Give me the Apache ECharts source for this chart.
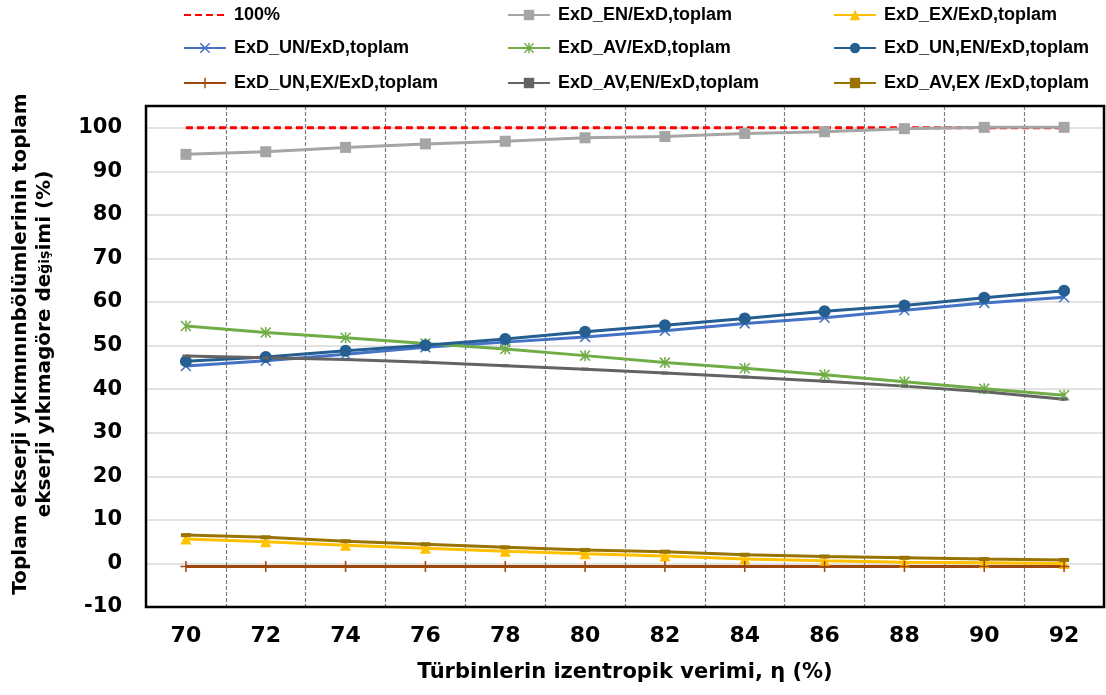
<!DOCTYPE html>
<html>
<head>
<meta charset="utf-8">
<script src="https://cdn.jsdelivr.net/npm/echarts@6/dist/echarts.min.js"></script>
<style>
  html, body { margin: 0; padding: 0; background: #ffffff; }
  #chart { width: 1106px; height: 695px; }
</style>
</head>
<body>
<div id="chart"></div>
<script>
// Turbine isentropic efficiency (%) on the category axis
const efficiency = ['70', '72', '74', '76', '78', '80', '82', '84', '86', '88', '90', '92'];

// Value axis range
const yMin = -10;
const yMax = 105;
const yStep = 10;

// Share of each exergy destruction component in the total (%)
const ref100    = [100, 100, 100, 100, 100, 100, 100, 100, 100, 100, 100, 100];
const enRatio   = [93.9, 94.5, 95.5, 96.3, 96.9, 97.7, 98.0, 98.7, 99.1, 99.8, 100.1, 100.1];
const exRatio   = [5.6, 5.0, 4.2, 3.5, 2.8, 2.2, 1.7, 1.0, 0.6, 0.3, 0.15, 0.0];
const unRatio   = [45.3, 46.5, 48.0, 49.6, 50.8, 52.0, 53.4, 55.1, 56.4, 58.1, 59.8, 61.1];
const avRatio   = [54.5, 53.0, 51.8, 50.5, 49.2, 47.7, 46.1, 44.8, 43.3, 41.7, 40.1, 38.6];
const unEnRatio = [46.4, 47.4, 48.8, 50.1, 51.5, 53.2, 54.7, 56.2, 57.9, 59.2, 61.0, 62.6];
const unExRatio = [-0.7, -0.7, -0.7, -0.7, -0.7, -0.7, -0.7, -0.7, -0.7, -0.7, -0.7, -0.7];
const avEnRatio = [47.6, 47.2, 46.8, 46.2, 45.4, 44.6, 43.7, 42.8, 41.8, 40.7, 39.4, 37.7];
const avExRatio = [6.5, 6.0, 5.1, 4.4, 3.7, 3.1, 2.7, 2.0, 1.6, 1.3, 1.0, 0.8];

const seriesNames = [
  '100%', 'ExD_EN/ExD,toplam', 'ExD_EX/ExD,toplam',
  'ExD_UN/ExD,toplam', 'ExD_AV/ExD,toplam', 'ExD_UN,EN/ExD,toplam',
  'ExD_UN,EX/ExD,toplam', 'ExD_AV,EN/ExD,toplam', 'ExD_AV,EX /ExD,toplam'
];

const FONT = '"Liberation Sans", Arial, sans-serif';
const FONT_WIDE = '"DejaVu Sans", Verdana, sans-serif';

// Marker shapes
const SYM_X = 'path://M0,1L1,0L10,9L9,10Z M9,0L10,1L1,10L0,9Z';
const SYM_STAR = 'path://M4.3,0H5.7V10H4.3Z M0,1L1,0L10,9L9,10Z M9,0L10,1L1,10L0,9Z';
const SYM_PLUS = 'path://M4.3,0H5.7V10H4.3Z M0,4.3H10V5.7H0Z';

function lineSeries(name, data, color, symbol, size, extra) {
  return Object.assign({
    name: name,
    type: 'line',
    data: data,
    symbol: symbol,
    symbolSize: size,
    lineStyle: { color: color, width: 3 },
    itemStyle: { color: color },
    emphasis: { disabled: true },
    animation: false
  }, extra || {});
}

const series = [
  // reference level: dashed line only, marker kept invisible (also in the legend)
  lineSeries(seriesNames[0], ref100, '#FF0000', 'circle', 1, {
    showSymbol: false,
    lineStyle: { color: '#FF0000', width: 3, type: [7, 4] },
    itemStyle: { color: 'rgba(0,0,0,0)' }
  }),
  lineSeries(seriesNames[1], enRatio, '#A5A5A5', 'rect', 11),
  lineSeries(seriesNames[2], exRatio, '#FFC000', 'triangle', 11),
  lineSeries(seriesNames[3], unRatio, '#4472C4', SYM_X, 11),
  lineSeries(seriesNames[4], avRatio, '#70AD47', SYM_STAR, 11),
  lineSeries(seriesNames[5], unEnRatio, '#255E91', 'circle', 12),
  lineSeries(seriesNames[6], unExRatio, '#9E480E', SYM_PLUS, 11),
  lineSeries(seriesNames[7], avEnRatio, '#636363', 'rect', [7, 3]),
  lineSeries(seriesNames[8], avExRatio, '#997300', 'rect', [10, 4])
];

// Legend laid out as a 3 x 3 block
const legendCols = [183, 507, 833];
const legendRows = [6, 39, 74];
const legends = seriesNames.map(function (name, i) {
  return {
    data: [name],
    left: legendCols[i % 3],
    top: legendRows[Math.floor(i / 3)],
    padding: 0,
    itemWidth: 42,
    itemHeight: 13,
    itemGap: 0,
    selectedMode: false,
    textStyle: { fontFamily: FONT, fontSize: 18, fontWeight: 'bold', color: '#000', padding: [0, 0, 0, 3] }
  };
});

const GRID = { left: 146, right: 2, top: 106, bottom: 88 };

const chart = echarts.init(document.getElementById('chart'), null, { renderer: 'canvas' });

chart.setOption({
  backgroundColor: '#ffffff',
  animation: false,
  legend: legends,
  grid: Object.assign({ show: false }, GRID),
  xAxis: {
    type: 'category',
    data: efficiency,
    boundaryGap: true,
    axisLine: { show: true, onZero: false, lineStyle: { color: '#000000', width: 2 } },
    axisTick: { show: false },
    axisLabel: {
      margin: 18, color: '#000', fontFamily: FONT_WIDE, fontSize: 22, fontWeight: 'bold'
    },
    splitLine: { show: true, lineStyle: { color: '#7F7F7F', width: 1.2, type: [4, 2] } }
  },
  yAxis: {
    type: 'value',
    min: yMin, max: yMax, interval: yStep,
    axisLine: { show: true, lineStyle: { color: '#000000', width: 2 } },
    axisTick: { show: false },
    axisLabel: {
      margin: 24, color: '#000', fontFamily: FONT_WIDE, fontSize: 21, fontWeight: 'bold',
      showMaxLabel: false
    },
    splitLine: { show: true, lineStyle: { color: '#D9D9D9', width: 1.5 } }
  },
  graphic: [
    {
      // plot frame
      type: 'rect',
      z: 100,
      silent: true,
      shape: { x: GRID.left, y: GRID.top, width: 1106 - GRID.left - GRID.right, height: 695 - GRID.top - GRID.bottom },
      style: { fill: 'none', stroke: '#000000', lineWidth: 2.5 }
    },
    {
      type: 'text',
      x: 33, y: 344,
      rotation: Math.PI / 2,
      silent: true,
      style: {
        text: 'Toplam ekserji yıkımınınbölümlerinin toplam\nekserji yıkımagöre de{s|ğiş}imi (%)',
        fontFamily: FONT_WIDE, fontSize: 20, fontWeight: 'bold',
        fill: '#000', align: 'center', verticalAlign: 'middle', lineHeight: 24,
        rich: { s: { fontFamily: FONT_WIDE, fontSize: 14, fontWeight: 'bold', fill: '#000' } }
      }
    },
    {
      type: 'text',
      x: 625, y: 673,
      silent: true,
      style: {
        text: 'Türbinlerin izentropik verimi, η (%)',
        fontFamily: FONT_WIDE, fontSize: 21, fontWeight: 'bold',
        fill: '#000', align: 'center', verticalAlign: 'middle'
      }
    }
  ],
  series: series
});
</script>
</body>
</html>
